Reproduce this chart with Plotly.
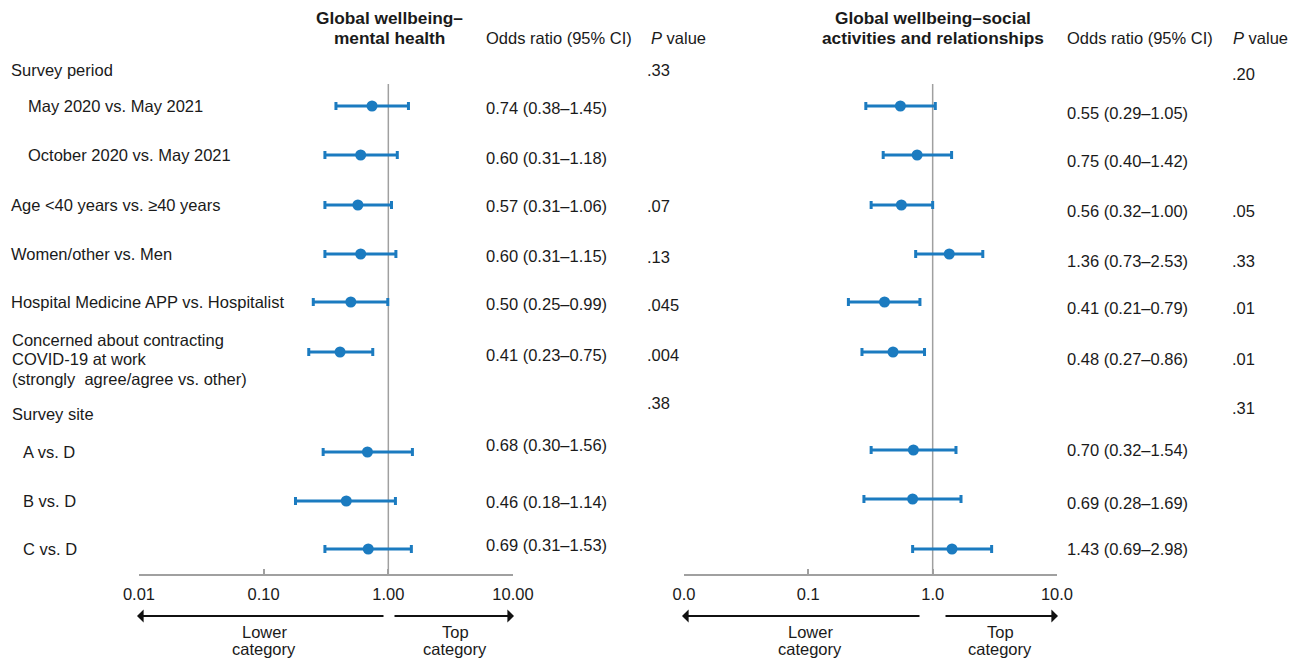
import plotly.graph_objects as go

# ---------------- data ----------------
row_labels = ["May 2020 vs. May 2021", "October 2020 vs. May 2021",
              "Age <40 years vs. \u226540 years", "Women/other vs. Men",
              "Hospital Medicine APP vs. Hospitalist",
              "Concerned about contracting COVID-19 at work (strongly agree/agree vs. other)",
              "A vs. D", "B vs. D", "C vs. D"]

mh_or = [0.74, 0.60, 0.57, 0.60, 0.50, 0.41, 0.68, 0.46, 0.69]
mh_lo = [0.38, 0.31, 0.31, 0.31, 0.25, 0.23, 0.30, 0.18, 0.31]
mh_hi = [1.45, 1.18, 1.06, 1.15, 0.99, 0.75, 1.56, 1.14, 1.53]

sa_or = [0.55, 0.75, 0.56, 1.36, 0.41, 0.48, 0.70, 0.69, 1.43]
sa_lo = [0.29, 0.40, 0.32, 0.73, 0.21, 0.27, 0.32, 0.28, 0.69]
sa_hi = [1.05, 1.42, 1.00, 2.53, 0.79, 0.86, 1.54, 1.69, 2.98]

mh_p = [".33", ".07", ".13", ".045", ".004", ".38"]
sa_p = [".20", ".05", ".33", ".01", ".01", ".31"]

tick_vals = [0.01, 0.1, 1, 10]
mh_tick_text = ["0.01", "0.10", "1.00", "10.00"]
sa_tick_text = ["0.0", "0.1", "1.0", "10.0"]

# ---------------- layout positions (pixels) ----------------
W, H = 1290, 658
AX_Y = 574
row_y = [106, 155, 205, 254, 302, 352, 452, 501, 549]
sa_row_y = [106, 155, 205, 254, 302, 352, 450, 499, 549]
mh_or_y = [108, 158, 206, 256, 304, 355, 445, 502, 545]
sa_or_y = [113, 161, 211, 261, 308, 359, 450, 503, 549]
mh_p_y = [70, 206, 257, 305, 355, 403]
sa_p_y = [74, 211, 261, 308, 359, 408]

FONT = "Liberation Sans, Arial, sans-serif"
TXT = "#1a1a1a"
BLUE = "#1b7bc0"
GREY = "#a0a0a0"
FS = 16.5
FS_HEAD = 17.3


def fmt(o, l, h):
    return f"{o:.2f} ({l:.2f}\u2013{h:.2f})"


def px(x):
    return x / W


def py(y):
    return (H - y) / H


fig = go.Figure()

# reference lines at OR = 1
for xa in ["x", "x2"]:
    fig.add_trace(go.Scatter(x=[1, 1], y=[84, AX_Y], mode="lines", xaxis=xa, yaxis="y",
                             line=dict(color=GREY, width=1.5), hoverinfo="skip", showlegend=False))

# forest points
fig.add_trace(go.Scatter(
    x=mh_or, y=row_y, mode="markers", xaxis="x", yaxis="y",
    marker=dict(color=BLUE, size=11),
    error_x=dict(type="data", symmetric=False,
                 array=[h - o for h, o in zip(mh_hi, mh_or)],
                 arrayminus=[o - l for o, l in zip(mh_or, mh_lo)],
                 color=BLUE, thickness=3, width=4),
    showlegend=False))
fig.add_trace(go.Scatter(
    x=sa_or, y=sa_row_y, mode="markers", xaxis="x2", yaxis="y",
    marker=dict(color=BLUE, size=11),
    error_x=dict(type="data", symmetric=False,
                 array=[h - o for h, o in zip(sa_hi, sa_or)],
                 arrayminus=[o - l for o, l in zip(sa_or, sa_lo)],
                 color=BLUE, thickness=3, width=4),
    showlegend=False))

ann = []


def text(x, y, s, xanchor="left", bold=False, size=FS):
    if bold:
        s = f"<b>{s}</b>"
    ann.append(dict(x=px(x), y=py(y), xref="paper", yref="paper", text=s, showarrow=False,
                    xanchor=xanchor, yanchor="middle", borderpad=0,
                    font=dict(family=FONT, size=size, color=TXT)))


# headers
text(389, 18, "Global wellbeing\u2013", "center", bold=True, size=FS_HEAD)
text(389, 38, "mental health", "center", bold=True, size=FS_HEAD)
text(933, 18, "Global wellbeing\u2013social", "center", bold=True, size=FS_HEAD)
text(933, 38, "activities and relationships", "center", bold=True, size=FS_HEAD)
text(485, 38, "Odds ratio (95% CI)")
text(1066, 38, "Odds ratio (95% CI)")
text(650, 38, "<i>P</i> value")
text(1232, 38, "<i>P</i> value")

# row labels
text(10, 70, "Survey period")
text(27, row_y[0], row_labels[0])
text(27, row_y[1], row_labels[1])
text(10, row_y[2], row_labels[2])
text(10, row_y[3], row_labels[3])
text(10, row_y[4], row_labels[4])
text(11, 340, "Concerned about contracting")
text(11, 359.5, "COVID-19 at work")
text(11, 379, "(strongly  agree/agree vs. other)")
text(11, 414, "Survey site")
text(22, row_y[6], row_labels[6])
text(22, row_y[7], row_labels[7])
text(22, row_y[8], row_labels[8])

# OR text
for o, l, h, y in zip(mh_or, mh_lo, mh_hi, mh_or_y):
    text(485, y, fmt(o, l, h))
for o, l, h, y in zip(sa_or, sa_lo, sa_hi, sa_or_y):
    text(1066, y, fmt(o, l, h))

# P values
for p, y in zip(mh_p, mh_p_y):
    text(646, y, p)
for p, y in zip(sa_p, sa_p_y):
    text(1231, y, p)


# direction arrows
def arrow(head, tail, y=616):
    ann.append(dict(x=px(head), y=py(y), xref="paper", yref="paper", ax=tail - head, ay=0,
                    axref="pixel", ayref="pixel", text="", showarrow=True,
                    arrowhead=1, arrowsize=1, arrowwidth=2.2, arrowcolor="#111111"))


arrow(137, 385)
arrow(514, 393)
arrow(682, 921)
arrow(1058, 944)

for cx, l1, l2 in [(264, "Lower", "category"), (455, "Top", "category"),
                   (810, "Lower", "category"), (1000, "Top", "category")]:
    text(cx, 632, l1, "center")
    text(cx, 649, l2, "center")

axis_common = dict(type="log", range=[-2, 1], tickvals=tick_vals, showgrid=False, zeroline=False,
                   showline=True, linecolor=GREY, linewidth=1.5, ticks="inside", ticklen=5,
                   tickcolor=GREY, tickwidth=1.5, anchor="y", automargin=False,
                   ticklabelstandoff=4,
                   tickfont=dict(family=FONT, size=FS, color=TXT))

fig.update_layout(
    width=W, height=H, margin=dict(l=0, r=0, t=0, b=0, pad=0, autoexpand=False),
    paper_bgcolor="white", plot_bgcolor="white",
    xaxis=dict(domain=[px(139), px(513)], ticktext=mh_tick_text, **axis_common),
    xaxis2=dict(domain=[px(684), px(1057)], ticktext=sa_tick_text, **axis_common),
    yaxis=dict(domain=[py(AX_Y), 1], range=[AX_Y, 0], visible=False, fixedrange=True,
               automargin=False),
    annotations=ann,
    showlegend=False,
)

fig.write_html("out.html", config={"displayModeBar": False},
               post_script="document.body.style.margin='0';document.body.style.overflow='hidden';")
